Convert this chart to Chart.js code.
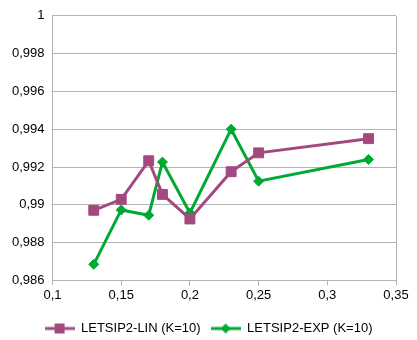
<!DOCTYPE html>
<html>
<head>
<meta charset="utf-8">
<script src="https://cdn.jsdelivr.net/npm/chart.js@4/dist/chart.umd.min.js"></script>
<style>
  html, body { margin: 0; padding: 0; background: #fff; }
  #wrap { width: 417px; height: 340px; }
</style>
</head>
<body>
<div id="wrap"><canvas id="myChart"></canvas></div>
<script>
const xValues = [0.13, 0.15, 0.17, 0.18, 0.2, 0.23, 0.25, 0.33];
const linValues = [0.98971, 0.99029, 0.99233, 0.99055, 0.98925, 0.99175, 0.99275, 0.9935];
const expValues = [0.98685, 0.98973, 0.98945, 0.99226, 0.98957, 0.994, 0.99125, 0.9924];
const xTicks = [0.1, 0.15, 0.2, 0.25, 0.3, 0.35];
const yTicks = [0.986, 0.988, 0.99, 0.992, 0.994, 0.996, 0.998, 1];
const seriesNames = ['LETSIP2-LIN (K=10)', 'LETSIP2-EXP (K=10)'];

const purple = '#a3497f';
const green = '#00a933';
const gridColor = '#b3b3b3';

const toComma = v => String(+v.toFixed(3)).replace('.', ',');

// little legend picture: line with the marker in the middle
const legendIcon = (color, shape) => {
  const c = document.createElement('canvas');
  c.width = 30; c.height = 12;
  const g = c.getContext('2d');
  g.strokeStyle = color; g.lineWidth = 3;
  g.beginPath(); g.moveTo(0, 6); g.lineTo(30, 6); g.stroke();
  g.fillStyle = color;
  if (shape === 'rect') {
    g.fillRect(10, 1, 10, 10);
  } else {
    g.beginPath(); g.moveTo(15, 1); g.lineTo(20, 6); g.lineTo(15, 11); g.lineTo(10, 6); g.closePath(); g.fill();
  }
  return c;
};

const pts = vals => vals.map((v, i) => ({ x: xValues[i], y: v }));
const ctx = document.getElementById('myChart').getContext('2d');

new Chart(ctx, {
  type: 'line',
  data: {
    datasets: [{
      label: seriesNames[0],
      data: pts(linValues),
      borderColor: purple,
      backgroundColor: purple,
      borderWidth: 3,
      pointStyle: 'rect',
      pointRadius: 7,
      pointBorderWidth: 1,
      pointHoverRadius: 7,
      tension: 0
    }, {
      label: seriesNames[1],
      data: pts(expValues),
      borderColor: green,
      backgroundColor: green,
      borderWidth: 3,
      pointStyle: 'rectRot',
      pointRadius: 5,
      pointBorderWidth: 1,
      pointHoverRadius: 5,
      tension: 0
    }]
  },
  options: {
    responsive: true,
    maintainAspectRatio: false,
    animation: false,
    layout: { padding: { top: 8, right: 4, left: 4, bottom: -5 } },
    scales: {
      x: {
        type: 'linear',
        min: 0.1, max: 0.35,
        afterBuildTicks: axis => { axis.ticks = xTicks.map(v => ({ value: v })); },
        afterFit: axis => { axis.height += 7; },
        grid: {
          color: c => c.index === xTicks.length - 1 ? gridColor : 'transparent',
          tickColor: gridColor,
          tickLength: 5,
          drawOnChartArea: true
        },
        border: { color: gridColor },
        ticks: {
          color: '#000',
          font: { family: 'Liberation Sans', size: 13 },
          padding: 2,
          maxRotation: 0,
          callback: v => toComma(v)
        }
      },
      y: {
        min: 0.986, max: 1,
        afterBuildTicks: axis => { axis.ticks = yTicks.map(v => ({ value: v })); },
        grid: { color: gridColor, drawTicks: false },
        border: { color: gridColor },
        ticks: {
          color: '#000',
          font: { family: 'Liberation Sans', size: 13 },
          padding: 8,
          callback: v => toComma(v)
        }
      },
      // empty right-hand axis, only keeps space beside the plot
      yRight: {
        position: 'right',
        min: 0.986, max: 1,
        grid: { display: false },
        border: { display: false },
        ticks: { display: false },
        afterFit: axis => { axis.width = 17; }
      }
    },
    plugins: {
      tooltip: { enabled: false },
      legend: {
        position: 'bottom',
        labels: {
          color: '#000',
          font: { family: 'Liberation Sans', size: 13 },
          usePointStyle: true,
          pointStyleWidth: 30,
          boxHeight: 12,
          padding: 10,
          generateLabels: chart => chart.data.datasets.map((ds, i) => ({
            text: ds.label,
            datasetIndex: i,
            fontColor: '#000',
            pointStyle: legendIcon(ds.borderColor, ds.pointStyle === 'rect' ? 'rect' : 'diamond'),
            lineWidth: 0
          }))
        }
      }
    }
  }
});
</script>
</body>
</html>
